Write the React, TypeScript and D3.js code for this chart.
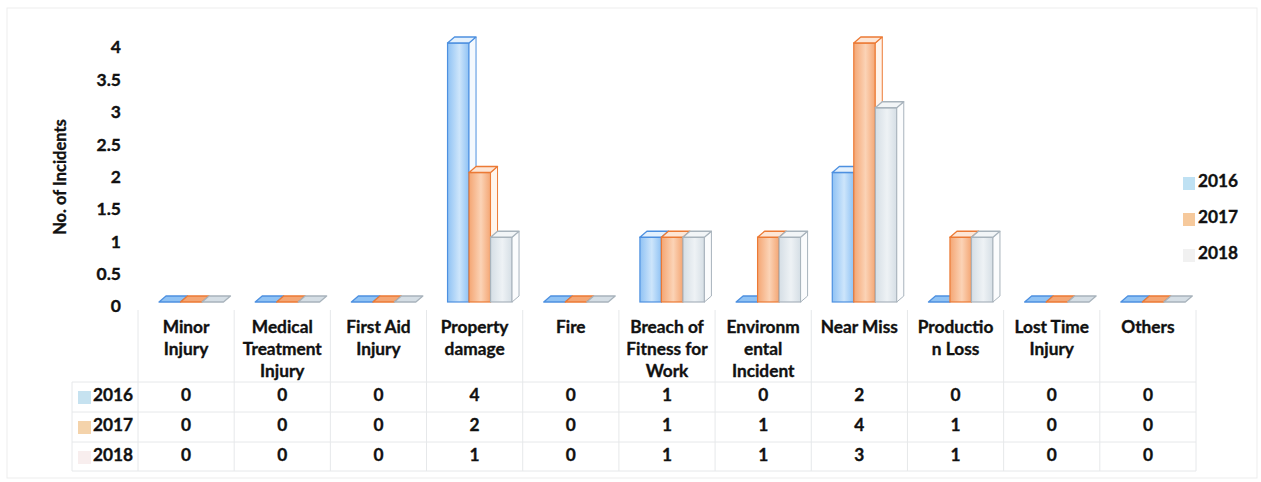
import React from 'react';
import * as d3 from 'd3';

const categories = [
  'Minor Injury', 'Medical Treatment Injury', 'First Aid Injury', 'Property damage', 'Fire',
  'Breach of Fitness for Work', 'Environmental Incident', 'Near Miss', 'Production Loss',
  'Lost Time Injury', 'Others',
];
// header text as it wraps in the table
const categoryLines = [
  ['Minor', 'Injury'], ['Medical', 'Treatment', 'Injury'], ['First Aid', 'Injury'], ['Property', 'damage'],
  ['Fire'], ['Breach of', 'Fitness for', 'Work'], ['Environm', 'ental', 'Incident'], ['Near Miss'],
  ['Productio', 'n Loss'], ['Lost Time', 'Injury'], ['Others'],
];
const years = ['2016', '2017', '2018'];
const values2016 = [0, 0, 0, 4, 0, 1, 0, 2, 0, 0, 0];
const values2017 = [0, 0, 0, 2, 0, 1, 1, 4, 1, 0, 0];
const values2018 = [0, 0, 0, 1, 0, 1, 1, 3, 1, 0, 0];
const yTicks = [0, 0.5, 1, 1.5, 2, 2.5, 3, 3.5, 4];

const seriesValues = [values2016, values2017, values2018];

const styles = [
  { edge: '#4d90e0', dark: '#8fc2f4', light: '#cde5fb', top: '#e4f1fd', side: '#f4f9fe', swatch: '#bfe1f3', rowSwatch: '#c6e2f0' },
  { edge: '#ec7a35', dark: '#f4a674', light: '#fbd3b6', top: '#fde6d6', side: '#fff4ec', swatch: '#f6c99c', rowSwatch: '#f4d3ab' },
  { edge: '#a8b3bc', dark: '#d5dee5', light: '#eef2f5', top: '#f2f5f7', side: '#fbfcfd', swatch: '#f1f1f1', rowSwatch: '#f8eeee' },
];

const font = 'Lato, "Liberation Sans", sans-serif';
const ink = '#111';
const txt = { fontFamily: font, fontWeight: 700, fill: ink, stroke: ink, strokeWidth: 0.35 } as const;

export default function App() {
  const width = 1261;
  const height = 482;

  const y = d3.scaleLinear().domain([0, 4]).range([302, 43]);
  const x = d3.scaleBand().domain(categories).range([138, 1196]).paddingInner(0);
  const xs = d3.scaleBand().domain(years).range([21, 21 + 64.5]);
  const bw = xs.bandwidth();
  const dx = 7;
  const dy = -6;

  const tableTop = 310;
  const rowLines = [382, 412, 442, 471];
  const rowY = [397, 427, 457];

  const bars: any[] = [];
  years.forEach((yr, j) => {
    categories.forEach((c, i) => {
      const v = seriesValues[j][i];
      const x0 = (x(c) as number) + (xs(yr) as number);
      const x1 = x0 + bw;
      const yt = y(v);
      const yb = y(0);
      const s = styles[j];
      bars.push(
        <g key={yr + c}>
          {v > 0 && (
            <rect x={x0} y={yt} width={bw} height={yb - yt} fill={`url(#grad${j})`} stroke={s.edge} strokeWidth={1.2} />
          )}
          {v > 0 && (
            <polygon
              points={`${x1},${yt} ${x1 + dx},${yt + dy} ${x1 + dx},${yb + dy} ${x1},${yb}`}
              fill={s.side} stroke={s.edge} strokeWidth={1} strokeLinejoin="round"
            />
          )}
          <polygon
            points={`${x0},${yt} ${x0 + dx},${yt + dy} ${x1 + dx},${yt + dy} ${x1},${yt}`}
            fill={v > 0 ? s.top : s.dark} stroke={s.edge} strokeWidth={1.3} strokeLinejoin="round"
          />
        </g>
      );
    });
  });

  return (
    <svg width={width} height={height} style={{ position: 'absolute', left: 0, top: 0, background: '#fff' }}>
      <defs>
        {styles.map((s, j) => (
          <linearGradient key={j} id={`grad${j}`} x1="0" x2="1" y1="0" y2="0">
            <stop offset="0%" stopColor={s.dark} />
            <stop offset="55%" stopColor={s.light} />
            <stop offset="100%" stopColor={s.dark} />
          </linearGradient>
        ))}
      </defs>
      <rect x={7} y={8} width={1250} height={470} fill="none" stroke="#ededed" />

      {/* y axis */}
      <text transform="translate(62,177) rotate(-90)" textAnchor="middle" dominantBaseline="middle" fontSize={16.5} {...txt}>
        No. of Incidents
      </text>
      {yTicks.map((t) => (
        <text key={t} x={121} y={y(t) + 6} textAnchor="end" dominantBaseline="middle" fontSize={17.5} {...txt}>
          {t}
        </text>
      ))}

      {bars}

      {/* data table */}
      <g stroke="#e6e8ea" strokeWidth={1}>
        {rowLines.map((ly) => (
          <line key={ly} x1={72} x2={1196} y1={ly} y2={ly} />
        ))}
        <line x1={72} x2={72} y1={rowLines[0]} y2={rowLines[3]} />
        {[...categories.map((c) => x(c) as number), 1196].map((lx) => (
          <line key={lx} x1={lx} x2={lx} y1={tableTop} y2={rowLines[3]} />
        ))}
      </g>
      {categories.map((c, i) => (
        <text key={c} textAnchor="middle" fontSize={17.3} {...txt}>
          {categoryLines[i].map((ln, k) => (
            <tspan key={k} x={(x(c) as number) + x.bandwidth() / 2} y={333 + k * 22}>{ln}</tspan>
          ))}
        </text>
      ))}
      {years.map((yr, j) => (
        <g key={yr}>
          <rect x={78} y={rowY[j] - 6} width={13} height={13} fill={styles[j].rowSwatch} />
          <text x={93} y={rowY[j]} dominantBaseline="middle" fontSize={17.3} {...txt}>
            {yr}
          </text>
          {categories.map((c, i) => (
            <text key={c} x={(x(c) as number) + x.bandwidth() / 2} y={rowY[j]} textAnchor="middle" dominantBaseline="middle"
              fontSize={17.3} {...txt}>
              {seriesValues[j][i]}
            </text>
          ))}
        </g>
      ))}

      {/* legend */}
      {years.map((yr, j) => (
        <g key={yr} transform={`translate(1183,${183 + j * 36})`}>
          <rect x={0} y={-6} width={12} height={13} fill={styles[j].swatch} />
          <text x={15} y={0} dominantBaseline="middle" fontSize={17.3} {...txt}>
            {yr}
          </text>
        </g>
      ))}
    </svg>
  );
}
